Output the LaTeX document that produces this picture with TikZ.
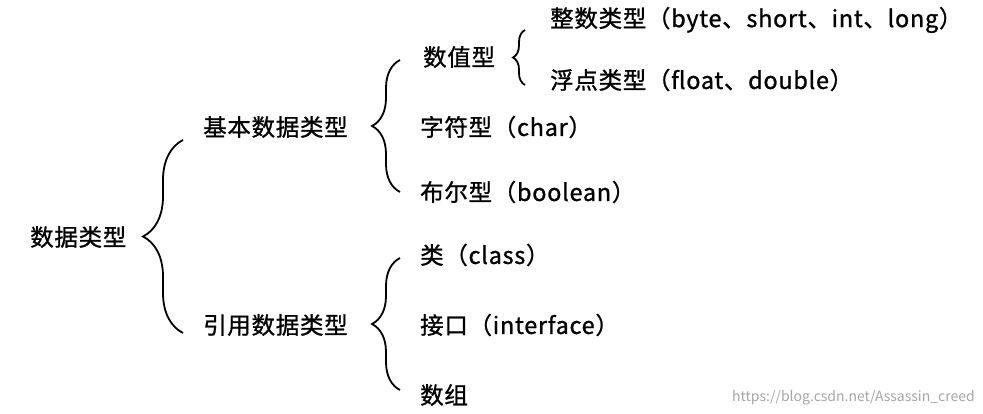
\documentclass[tikz,border=0pt]{standalone}
\usepackage{fontspec}
\setmainfont{Noto Sans CJK SC}[LetterSpace=3,FakeBold=1]
\newfontfamily\wmfont{Noto Sans CJK SC}
\usetikzlibrary{decorations.pathreplacing}
\begin{document}
\begin{tikzpicture}[x=1pt,y=-1pt,
  lbl/.style={anchor=west,inner sep=0pt,font=\fontsize{23.5}{25}\selectfont},
  br/.style={draw,line width=1.8pt,decorate,decoration={brace,amplitude=#1}}]
\useasboundingbox[fill=white] (0,0) rectangle (983,414);
\node[lbl] (root) at (30,237) {数据类型};
\node[lbl] (basic) at (203,127) {基本数据类型};
\node[lbl] (ref) at (203,325) {引用数据类型};
\node[lbl] (num) at (423,57) {数值型};
\node[lbl] (chr) at (420,127) {字符型（char）};
\node[lbl] (bool) at (420,192) {布尔型（boolean）};
\node[lbl] (int) at (550,20) {整数类型（byte、short、int、long）};
\node[lbl] (flt) at (550,80) {浮点类型（float、double）};
\node[lbl] (cls) at (420,255) {类（class）};
\node[lbl] (ifc) at (420,325) {接口（interface）};
\node[lbl] (arr) at (420,395) {数组};
\node[anchor=east,inner sep=0pt,text=gray!70,font=\wmfont\fontsize{14}{15}\selectfont] (wm) at (975,398) {https://blog.csdn.net/Assassin\_creed};
\coordinate (b1a) at (183,333); \coordinate (b1b) at (183,140);
\coordinate (b2a) at (400,192); \coordinate (b2b) at (400,60);
\coordinate (b3a) at (525,85); \coordinate (b3b) at (525,30);
\coordinate (b4a) at (400,390); \coordinate (b4b) at (400,258);
\draw[br=40pt] (b1a) -- (b1b);
\draw[br=28pt] (b2a) -- (b2b);
\draw[br=12pt] (b3a) -- (b3b);
\draw[br=28pt] (b4a) -- (b4b);
\end{tikzpicture}
\end{document}
